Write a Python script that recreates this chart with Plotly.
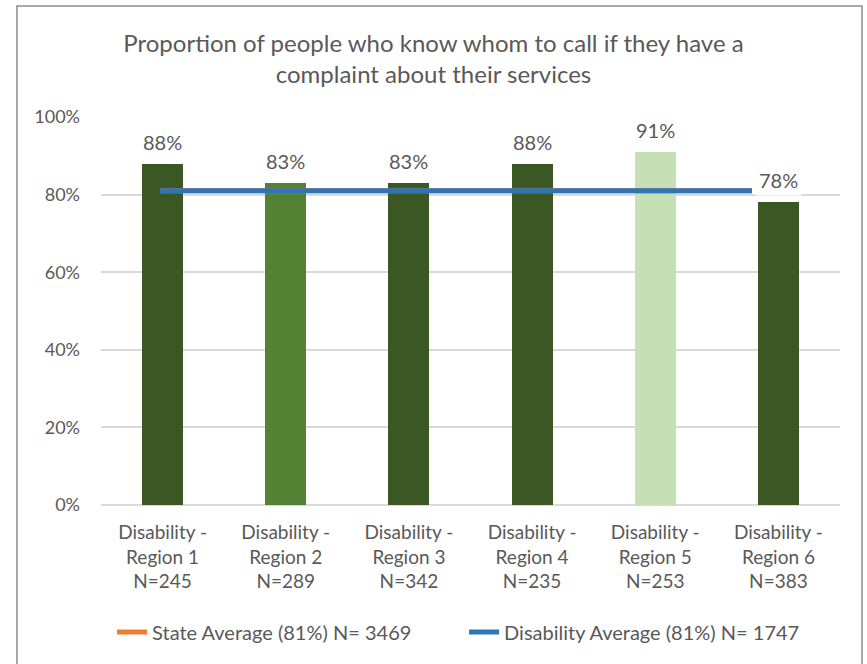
import plotly.graph_objects as go

# Survey results per region
regions = ["Disability -<br>Region 1<br>N=245", "Disability -<br>Region 2<br>N=289",
           "Disability -<br>Region 3<br>N=342", "Disability -<br>Region 4<br>N=235",
           "Disability -<br>Region 5<br>N=253", "Disability -<br>Region 6<br>N=383"]
proportions = [0.88, 0.83, 0.83, 0.88, 0.91, 0.78]
bar_colors = ["#3A5724", "#548235", "#3A5724", "#3A5724", "#C5E0B4", "#3A5724"]

# Reference averages (drawn as horizontal lines across the regions)
average_span = [-0.02, 4.785]
state_average = [0.81, 0.81]
disability_average = [0.81, 0.81]

positions = list(range(len(regions)))

FONT = "Lato, 'Open Sans', sans-serif"
GREY = "#595959"

fig = go.Figure()

fig.add_trace(go.Bar(
    x=positions, y=proportions, marker_color=bar_colors,
    marker_line_width=0, width=0.333, showlegend=False, hoverinfo="y",
))

fig.add_trace(go.Scatter(
    x=average_span, y=state_average, mode="lines",
    line=dict(color="#ED7D31", width=5),
    name="State Average (81%) N= 3469",
))
fig.add_trace(go.Scatter(
    x=average_span, y=disability_average, mode="lines",
    line=dict(color="#2E75B6", width=5),
    name="Disability Average (81%) N= 1747",
))

# Value labels above each bar, on a white box
for xi, v in zip(positions, proportions):
    fig.add_annotation(
        x=xi, y=v, text=f"{round(v * 100)}%", showarrow=False,
        yshift=22, bgcolor="white", borderpad=3,
        font=dict(family=FONT, size=20, color=GREY),
    )

# Outer chart frame
fig.add_shape(
    type="rect", xref="paper", yref="paper",
    x0=-0.1137, x1=1.0298, y0=-0.43, y1=1.286,
    line=dict(color="#8C8C8C", width=1.5), fillcolor="rgba(0,0,0,0)", layer="below",
)

fig.update_layout(
    width=867, height=664,
    margin=dict(l=101, r=27, t=117, b=159),
    paper_bgcolor="white", plot_bgcolor="white",
    title=dict(
        text="Proportion of people who know whom to call if they have a<br>complaint about their services",
        x=0.5, xanchor="center", xref="container",
        y=1 - 52 / 664, yanchor="top", yref="container",
        font=dict(family=FONT, size=24, color=GREY),
    ),
    xaxis=dict(
        tickmode="array", tickvals=positions, ticktext=regions,
        range=[-0.5, 5.5], showgrid=False, zeroline=False,
        showline=False, ticks="", ticklabelstandoff=14,
        tickfont=dict(family=FONT, size=19, color=GREY),
    ),
    yaxis=dict(
        range=[0, 1], tickvals=[0, 0.2, 0.4, 0.6, 0.8, 1.0], tickformat=".0%",
        showgrid=True, gridcolor="#D9D9D9", gridwidth=1.5,
        zeroline=True, zerolinecolor="#D9D9D9", zerolinewidth=1.5,
        showline=False, ticks="", ticklabelstandoff=20,
        tickfont=dict(family=FONT, size=18, color=GREY),
    ),
    legend=dict(
        orientation="h", x=0.015, xanchor="left", y=-0.327, yanchor="middle",
        font=dict(family=FONT, size=20, color=GREY), itemwidth=30,
        entrywidth=307, entrywidthmode="pixels",
        bgcolor="rgba(0,0,0,0)",
    ),
    bargap=0,
)

fig.write_html("out.html")
